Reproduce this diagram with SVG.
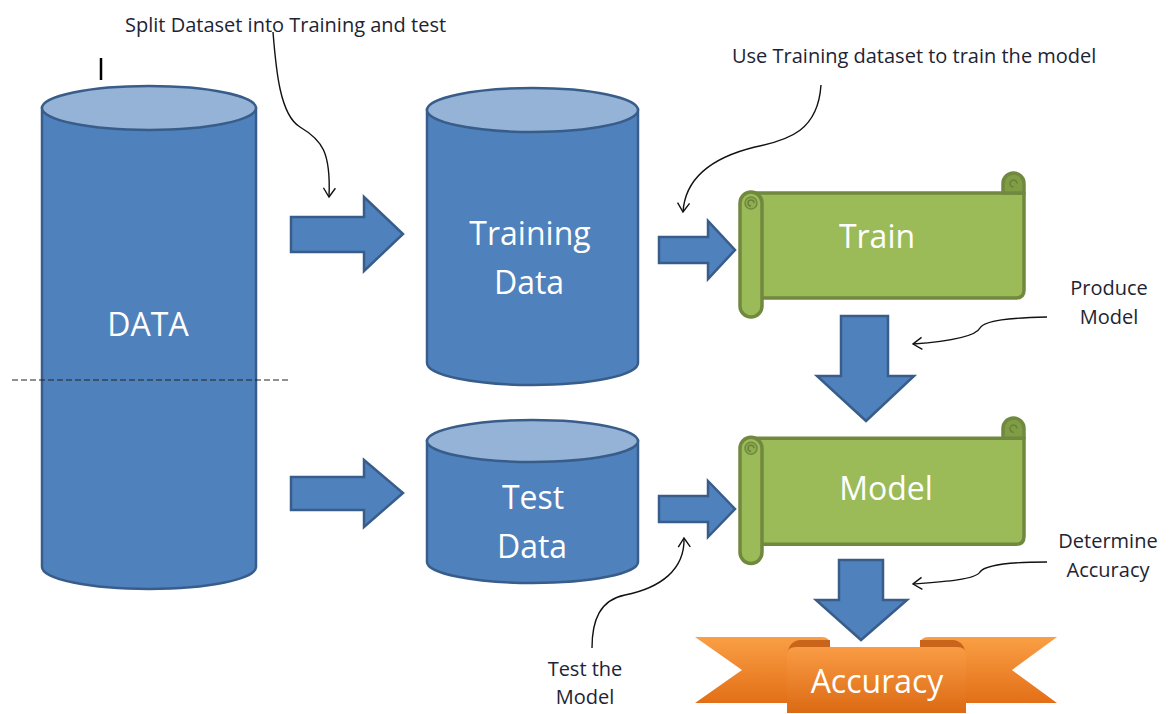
<svg xmlns="http://www.w3.org/2000/svg" width="1173" height="714" viewBox="0 0 1173 714">
  <defs>
    <style>
      .cyl-body { fill: #4F81BD; stroke: #385D8A; stroke-width: 2.5; }
      .cyl-top { fill: #95B3D7; stroke: #385D8A; stroke-width: 2.5; }
      .block { fill: #4F81BD; stroke: #385D8A; stroke-width: 2.5; stroke-linejoin: miter; }
      .scroll { fill: #9BBB59; stroke: #71893F; stroke-width: 3.5; stroke-linejoin: round; }
      .scroll-dark { fill: #7E9D45; stroke: #71893F; stroke-width: 3.5; stroke-linejoin: round; }
      .curl { fill: none; stroke: #6A8139; stroke-width: 1.5; }
      .label { font-family: "Open Sans", "Liberation Sans", sans-serif; font-size: 32px; fill: #FFFFFF; text-anchor: middle; }
      .note { font-family: "Open Sans", "Liberation Sans", sans-serif; font-size: 20px; fill: #1E2433; }
      .note-c { text-anchor: middle; }
      .callout { fill: none; stroke: #111; stroke-width: 1.4; }
    </style>
    <marker id="openHead" viewBox="-10 -7 12 14" markerWidth="12" markerHeight="14" refX="0" refY="0" orient="auto" markerUnits="userSpaceOnUse">
      <path d="M-9,-6 L0,0 L-9,6" fill="none" stroke="#111" stroke-width="1.4"/>
    </marker>
    <linearGradient id="orangeWing" x1="0" y1="0" x2="0" y2="1">
      <stop offset="0" stop-color="#FA9F45"/>
      <stop offset="1" stop-color="#E26F17"/>
    </linearGradient>
    <linearGradient id="orangeFront" x1="0" y1="0" x2="0" y2="1">
      <stop offset="0" stop-color="#F99C45"/>
      <stop offset="1" stop-color="#DC6A14"/>
    </linearGradient>
    <!-- horizontal scroll shape, local origin at top-left of the curl -->
    <g id="scrollShape">
      <path class="scroll" d="M11,20 H284 V117 Q284,125 276,125 H11 Z"/>
      <path class="scroll-dark" d="M263,20 V10.5 A10.5,10.5 0 0 1 284,10.5 V20 Z"/>
      <path class="curl" d="M273.5,14 a3.5,3.5 0 1 1 3.5,-3.5"/>
      <rect class="scroll" x="0" y="19" width="22" height="125" rx="11"/>
      <circle cx="11" cy="30" r="6" fill="#8EAD50" stroke="#71893F" stroke-width="1.5"/>
      <path class="curl" d="M11,33 a3,3 0 1 1 3,-3"/>
    </g>
  </defs>

  <rect width="1173" height="714" fill="#FFFFFF"/>

  <!-- DATA cylinder -->
  <g id="data">
    <path class="cyl-body" d="M42,108 V567 A107,22 0 0 0 256,567 V108 Z"/>
    <ellipse class="cyl-top" cx="149" cy="108" rx="107" ry="22"/>
    <text class="label" x="148" y="336">DATA</text>
  </g>

  <!-- Training Data cylinder -->
  <g id="training-data">
    <path class="cyl-body" d="M427,110 V363 A105.5,22 0 0 0 638,363 V110 Z"/>
    <ellipse class="cyl-top" cx="532.5" cy="110" rx="105.5" ry="22"/>
    <text class="label" x="530" y="245">Training</text>
    <text class="label" x="529" y="294">Data</text>
  </g>

  <!-- Test Data cylinder -->
  <g id="test-data">
    <path class="cyl-body" d="M427,441 V562 A105.5,21 0 0 0 638,562 V441 Z"/>
    <ellipse class="cyl-top" cx="532.5" cy="441" rx="105.5" ry="21"/>
    <text class="label" x="533" y="509">Test</text>
    <text class="label" x="532" y="558">Data</text>
  </g>

  <!-- Train scroll -->
  <g id="train">
    <use href="#scrollShape" transform="translate(740,173)"/>
    <text class="label" x="877" y="248">Train</text>
  </g>

  <!-- Model scroll -->
  <g id="model">
    <use href="#scrollShape" transform="translate(740,418) scale(1,1.01)"/>
    <text class="label" x="886" y="500">Model</text>
  </g>

  <!-- Accuracy ribbon -->
  <g id="accuracy">
    <path d="M695,637 H822 Q830,637 830,645 V703 H695 L742,670 Z" fill="url(#orangeWing)"/>
    <path d="M1057,637 H928 Q920,637 920,645 V703 H1057 L1012,670 Z" fill="url(#orangeWing)"/>
    <path d="M787,660 Q787,641 800,640 H830 V660 Z" fill="#C8651A"/>
    <path d="M966,660 Q966,641 953,640 H920 V660 Z" fill="#C8651A"/>
    <path d="M787,655 Q787,647 796,647 H957 Q966,647 966,655 V713 H787 Z" fill="url(#orangeFront)"/>
    <text class="label" x="877" y="693">Accuracy</text>
  </g>

  <!-- block arrows and annotation callouts -->
  <g id="connectors">
    <polygon class="block" points="291,217 364,217 364,197 403,234 364,271 364,252 291,252"/>
    <polygon class="block" points="291,477 364,477 364,460 403,493 364,527 364,510 291,510"/>
    <polygon class="block" points="659,237 708,237 708,221 735,250 708,279 708,263 659,263"/>
    <polygon class="block" points="659,496 708,496 708,481 735,509 708,537 708,522 659,522"/>
    <polygon class="block" points="841,316 888,316 888,376 914,376 866,421 817,376 841,376"/>
    <polygon class="block" points="839,560 883,560 883,600 907,600 861,640 816,600 839,600"/>

    <path class="callout" d="M273,32 C276,70 280,115 300,127 C322,140 331,152 329,197" marker-end="url(#openHead)"/>
    <path class="callout" d="M821,85 C818,130 790,140 755,147 C710,158 685,180 683,212" marker-end="url(#openHead)"/>
    <path class="callout" d="M1047,317 C1010,318 985,320 980,328 C975,338 940,342 913,344" marker-end="url(#openHead)"/>
    <path class="callout" d="M1047,562 C1010,562 985,565 980,572 C975,580 940,582 913,584" marker-end="url(#openHead)"/>
    <path class="callout" d="M592,648 C592,620 600,600 625,595 C660,588 685,570 684,538" marker-end="url(#openHead)"/>

    <line x1="12" y1="380" x2="288" y2="380" stroke="#222" stroke-width="1.2" stroke-dasharray="6 3"/>
    <line x1="101" y1="58" x2="101" y2="80" stroke="#000" stroke-width="2.5"/>
  </g>

  <!-- annotation texts -->
  <g id="notes">
    <text class="note" x="125" y="32">Split Dataset into Training and test</text>
    <text class="note" x="732" y="63">Use Training dataset to train the model</text>
    <text class="note note-c" x="1109" y="295">Produce</text>
    <text class="note note-c" x="1109" y="324">Model</text>
    <text class="note note-c" x="1108" y="548">Determine</text>
    <text class="note note-c" x="1108" y="577">Accuracy</text>
    <text class="note note-c" x="585" y="676">Test the</text>
    <text class="note note-c" x="585" y="704">Model</text>
  </g>
</svg>
